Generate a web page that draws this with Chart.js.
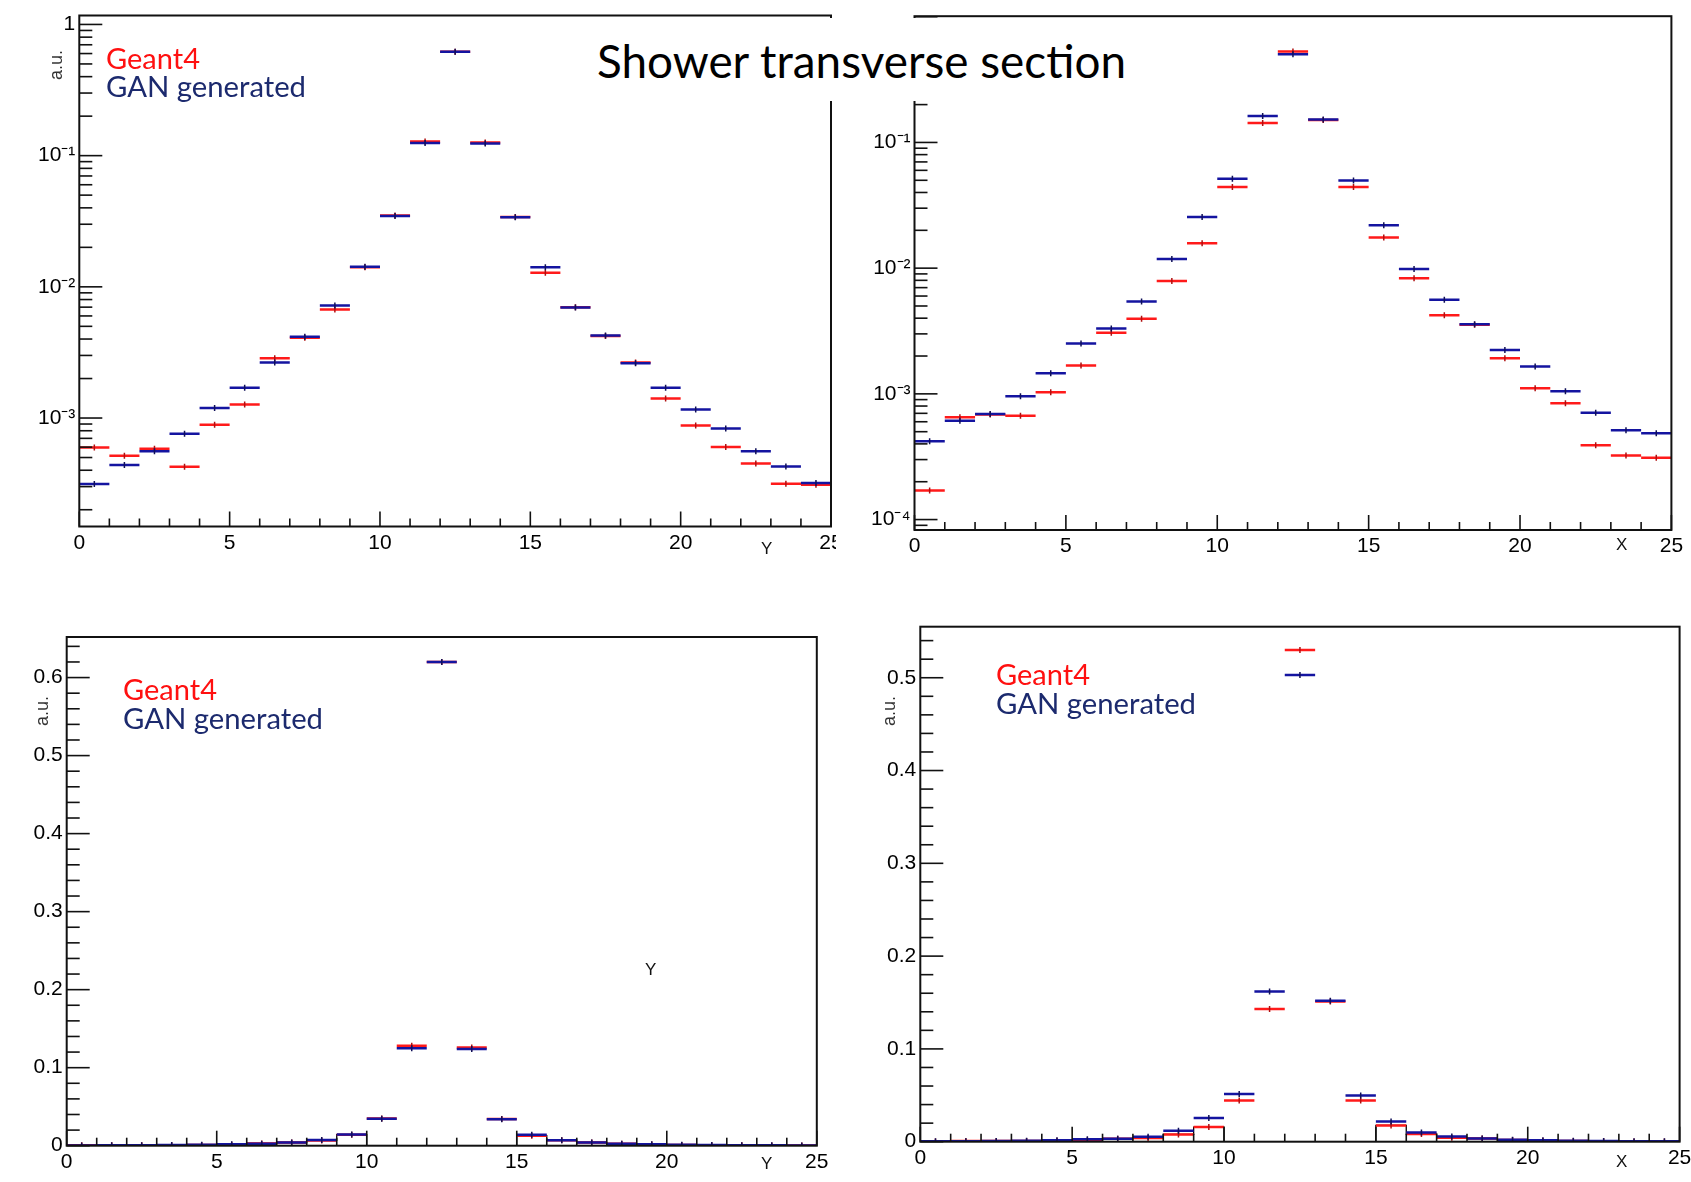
<!DOCTYPE html>
<html>
<head>
<meta charset="utf-8">
<title>Shower transverse section</title>
<script src="https://cdn.jsdelivr.net/npm/chart.js@4.4.1/dist/chart.umd.min.js"></script>
<style>
  html, body { margin: 0; padding: 0; background: #fff; }
  body { width: 1691px; height: 1182px; position: relative; overflow: hidden; }
  canvas { position: absolute; }
  .txt { position: absolute; white-space: nowrap; line-height: 1; transform-origin: 0 0; }
  .legend { font-family: Lato, "Open Sans", sans-serif; font-size: 28px; }
  .g4 { color: #ff1010; }
  .gan { color: #1c2a6e; }
  .axis-title { font-family: "Liberation Sans", Arial, sans-serif; font-size: 17px; color: #111; }
  .au { font-family: "Liberation Sans", Arial, sans-serif; font-size: 18px; color: #333;
        transform: translate(-50%, -50%) rotate(-90deg); transform-origin: 50% 50%; }
  #title { position: absolute; left: 500px; top: 18px; width: 700px; height: 83px; background: #fff; }
  #title span { position: absolute; font-family: Lato, "Open Sans", sans-serif; font-weight: 400; font-size: 46px;
                color: #000; white-space: nowrap; line-height: 1; transform-origin: 0 0; }
</style>
</head>
<body>

<canvas id="topY"></canvas>
<canvas id="topX"></canvas>
<canvas id="linY"></canvas>
<canvas id="linX"></canvas>

<!-- legends -->
<div class="txt legend g4" data-w="94" style="left:106px; top:44px;">Geant4</div>
<div class="txt legend gan" data-w="200" style="left:106px; top:72px;">GAN generated</div>
<div class="txt legend g4" data-w="94" style="left:123px; top:675px;">Geant4</div>
<div class="txt legend gan" data-w="200" style="left:123px; top:704px;">GAN generated</div>
<div class="txt legend g4" data-w="94" style="left:996px; top:660px;">Geant4</div>
<div class="txt legend gan" data-w="200" style="left:996px; top:689px;">GAN generated</div>

<!-- axis titles -->
<div class="txt axis-title" style="left:761px; top:540px;">Y</div>
<div class="txt axis-title" style="left:1616px; top:536px;">X</div>
<div class="txt axis-title" style="left:761px; top:1155px;">Y</div>
<div class="txt axis-title" style="left:645px; top:961px;">Y</div>
<div class="txt axis-title" style="left:1616px; top:1153px;">X</div>
<div class="txt au" style="left:56px; top:65px;">a.u.</div>
<div class="txt au" style="left:42px; top:711px;">a.u.</div>
<div class="txt au" style="left:889px; top:711px;">a.u.</div>

<div id="title"><span data-w="529" style="left:97px; top:20px;">Shower transverse section</span></div>

<script>
// Bins of the transverse profile: 25 cells from 0 to 25
const BIN_COUNT = 25;
const binTicks = [0, 5, 10, 15, 20, 25];

// Energy fraction per Y cell
const yGeant4 = [5.97e-4, 5.16e-4, 5.82e-4, 4.25e-4, 8.87e-4, 1.27e-3, 2.86e-3, 4.09e-3, 6.73e-3, 1.41e-2,
  3.50e-2, 0.128, 0.620, 0.126, 3.41e-2, 1.28e-2, 6.98e-3, 4.22e-3, 2.65e-3, 1.41e-3,
  8.77e-4, 6.01e-4, 4.50e-4, 3.16e-4, 3.10e-4];
const yGan = [3.14e-4, 4.39e-4, 5.57e-4, 7.58e-4, 1.19e-3, 1.70e-3, 2.65e-3, 4.17e-3, 7.21e-3, 1.42e-2,
  3.47e-2, 0.125, 0.620, 0.124, 3.39e-2, 1.41e-2, 6.95e-3, 4.25e-3, 2.62e-3, 1.70e-3,
  1.16e-3, 8.33e-4, 5.57e-4, 4.28e-4, 3.20e-4];
// black outline histogram (Y)
const yOutline = [0, 0, 0, 0, 8.87e-4, 1.27e-3, 2.86e-3, 4.09e-3, 6.73e-3, 1.41e-2,
  0, 0, 0, 0, 0, 1.28e-2, 6.98e-3, 4.22e-3, 2.65e-3, 1.41e-3,
  8.77e-4, 0, 0, 0, 0];

// Energy fraction per X cell
const xGeant4 = [1.70e-4, 6.52e-4, 6.85e-4, 6.69e-4, 1.03e-3, 1.68e-3, 3.06e-3, 3.96e-3, 7.89e-3, 1.58e-2,
  4.43e-2, 0.143, 0.530, 0.151, 4.43e-2, 1.75e-2, 8.31e-3, 4.22e-3, 3.55e-3, 1.92e-3,
  1.11e-3, 8.43e-4, 3.90e-4, 3.24e-4, 3.10e-4];
const xGan = [4.20e-4, 6.11e-4, 6.92e-4, 9.55e-4, 1.46e-3, 2.51e-3, 3.31e-3, 5.42e-3, 1.18e-2, 2.55e-2,
  5.14e-2, 0.162, 0.503, 0.152, 4.98e-2, 2.19e-2, 9.86e-3, 5.61e-3, 3.58e-3, 2.23e-3,
  1.65e-3, 1.05e-3, 7.06e-4, 5.14e-4, 4.85e-4];
// black outline histogram (X)
const xOutline = [0, 0, 0, 6.69e-4, 1.03e-3, 1.68e-3, 3.06e-3, 3.96e-3, 7.89e-3, 1.58e-2,
  0, 0, 0, 0, 0, 1.75e-2, 8.31e-3, 4.22e-3, 3.55e-3, 1.92e-3,
  1.11e-3, 8.43e-4, 0, 0, 0];

// y axis ticks
const logTicksY = [1e-3, 1e-2, 1e-1, 1];
const logLabelsY = ['10\u207B\u00B3', '10\u207B\u00B2', '10\u207B\u00B9', '1'];
const logTicksX = [1e-4, 1e-3, 1e-2, 1e-1];
const logLabelsX = ['10\u207B\u2074', '10\u207B\u00B3', '10\u207B\u00B2', '10\u207B\u00B9'];
const linTicksY = [0, 0.1, 0.2, 0.3, 0.4, 0.5, 0.6];
const linLabelsY = ['0', '0.1', '0.2', '0.3', '0.4', '0.5', '0.6'];
const linTicksX = [0, 0.1, 0.2, 0.3, 0.4, 0.5];
const linLabelsX = ['0', '0.1', '0.2', '0.3', '0.4', '0.5'];

const RED = '#ff1a1a';
const BLUE = '#1414a0';
const TICK_FONT = { family: '"Liberation Sans", Arial, sans-serif', size: 21 };

// horizontal bar for each bin, broken between bins
function binSegments(values) {
  const pts = [];
  values.forEach((v, i) => {
    pts.push({ x: i, y: v }, { x: i + 1, y: v }, { x: i + 1, y: null });
  });
  return pts;
}

// error bar marker at the bin centre
function binCentres(values) {
  return values.map((v, i) => ({ x: i + 0.5, y: v }));
}

// stepped outline, closed back to zero at the last edge
function binOutline(values) {
  const pts = values.map((v, i) => ({ x: i, y: v }));
  pts.push({ x: values.length, y: 0 });
  return pts;
}

// ROOT-like frame with inward ticks
const rootFrame = {
  id: 'rootFrame',
  afterDraw(chart) {
    const { ctx, chartArea: a, scales: { x, y } } = chart;
    ctx.save();
    ctx.strokeStyle = '#111';
    ctx.lineWidth = 1.6;
    for (let v = 0; v <= BIN_COUNT; v++) {
      const px = x.getPixelForValue(v);
      const len = v % 5 === 0 ? 15 : 8;
      ctx.beginPath();
      ctx.moveTo(px, a.bottom);
      ctx.lineTo(px, a.bottom - len);
      ctx.stroke();
    }
    const yTick = (v, len) => {
      const py = y.getPixelForValue(v);
      if (py < a.top - 0.5 || py > a.bottom + 0.5) return;
      ctx.beginPath();
      ctx.moveTo(a.left, py);
      ctx.lineTo(a.left + len, py);
      ctx.stroke();
    };
    if (y.type === 'logarithmic') {
      const lo = Math.floor(Math.log10(y.min));
      const hi = Math.ceil(Math.log10(y.max));
      for (let d = lo; d <= hi; d++) {
        for (let k = 1; k <= 9; k++) yTick(k * Math.pow(10, d), k === 1 ? 23 : 13);
      }
    } else {
      for (let i = 0; i * 0.02 <= y.max + 1e-9; i++) yTick(i * 0.02, i % 5 === 0 ? 23 : 13);
    }
    ctx.lineWidth = 2;
    ctx.strokeRect(a.left, a.top, a.right - a.left, a.bottom - a.top);
    ctx.restore();
  }
};

function makePanel(p) {
  const canvas = document.getElementById(p.id);
  const [bl, bt, bw, bh] = p.box;
  canvas.width = bw;
  canvas.height = bh;
  canvas.style.left = bl + 'px';
  canvas.style.top = bt + 'px';
  const [fl, ft, fr, fb] = p.frame;
  const axisW = fl - bl;
  const axisH = bt + bh - fb;

  const datasets = [
    { data: binSegments(p.geant4), borderColor: RED, borderWidth: 2.5, pointRadius: 0, spanGaps: false, order: 4 },
    { data: binCentres(p.geant4), showLine: false, pointStyle: 'line', rotation: 90, pointRadius: 3,
      borderColor: '#b01010', pointBorderWidth: 1.5, order: 3 },
    { data: binSegments(p.gan), borderColor: BLUE, borderWidth: 2.5, pointRadius: 0, spanGaps: false, order: 2 },
    { data: binCentres(p.gan), showLine: false, pointStyle: 'line', rotation: 90, pointRadius: 3,
      borderColor: '#10105a', pointBorderWidth: 1.5, order: 1 }
  ];
  if (p.outline) {
    datasets.push({ data: binOutline(p.outline), stepped: 'before', borderColor: '#000', borderWidth: 1.3,
      pointRadius: 0, order: 5 });
  }

  return new Chart(canvas, {
    type: 'line',
    data: { datasets },
    options: {
      responsive: false,
      animation: false,
      events: [],
      layout: { autoPadding: false, padding: { left: 0, top: ft - bt, right: bl + bw - fr, bottom: 0 } },
      plugins: { legend: { display: false }, tooltip: { enabled: false } },
      scales: {
        x: {
          type: 'linear', min: 0, max: BIN_COUNT,
          grid: { display: false, drawTicks: false }, border: { display: false },
          afterBuildTicks: (s) => { s.ticks = binTicks.map((v) => ({ value: v })); },
          afterFit: (s) => { s.height = axisH; s.paddingLeft = 0; s.paddingRight = 0; },
          ticks: { font: TICK_FONT, color: '#000', padding: 4, autoSkip: false, maxRotation: 0,
                   callback: (v) => String(v) }
        },
        y: {
          type: p.log ? 'logarithmic' : 'linear', min: p.range[0], max: p.range[1],
          grid: { display: false, drawTicks: false }, border: { display: false },
          afterBuildTicks: (s) => { s.ticks = p.ticks.map((v) => ({ value: v })); },
          afterFit: (s) => { s.width = axisW; s.paddingTop = 0; s.paddingBottom = 0; },
          ticks: { font: TICK_FONT, color: '#000', padding: 4, autoSkip: false,
                   callback: (v, i) => p.labels[i] }
        }
      }
    },
    plugins: [rootFrame]
  });
}

const panels = [
  { id: 'topY', box: [0, 0, 836, 572], frame: [79.3, 15.5, 831, 526.5], log: true,
    range: [1.49e-4, 1.17], ticks: logTicksY, labels: logLabelsY, geant4: yGeant4, gan: yGan },
  { id: 'topX', box: [840, 0, 851, 575], frame: [914.5, 16.2, 1671.4, 530], log: true,
    range: [8.26e-5, 1.01], ticks: logTicksX, labels: logLabelsX, geant4: xGeant4, gan: xGan },
  { id: 'linY', box: [0, 600, 836, 582], frame: [66.7, 637, 816.8, 1145.7], log: false,
    range: [0, 0.652], ticks: linTicksY, labels: linLabelsY, geant4: yGeant4, gan: yGan, outline: yOutline },
  { id: 'linX', box: [840, 600, 851, 582], frame: [920.3, 626.7, 1679.6, 1141.7], log: false,
    range: [0, 0.555], ticks: linTicksX, labels: linLabelsX, geant4: xGeant4, gan: xGan, outline: xOutline }
];

panels.forEach(makePanel);

// squeeze the geometric lettering to its measured width
document.querySelectorAll('[data-w]').forEach((el) => {
  const w = el.getBoundingClientRect().width;
  el.style.transform = 'scaleX(' + (Number(el.dataset.w) / w) + ')';
});
</script>
</body>
</html>
